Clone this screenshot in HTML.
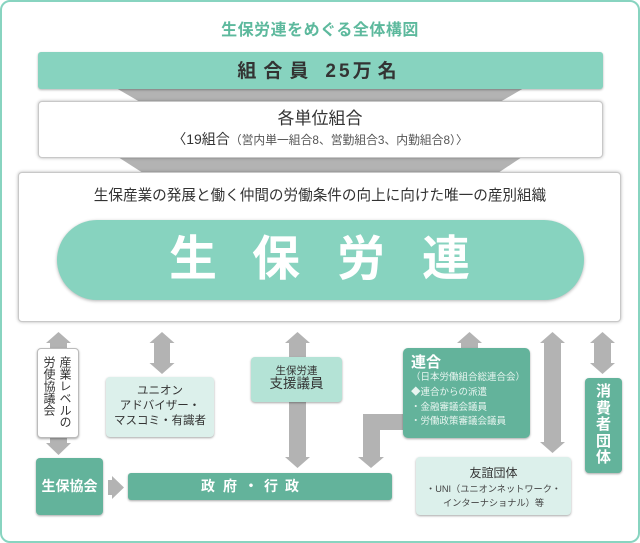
<!DOCTYPE html>
<html><head><meta charset="utf-8">
<style>
*{margin:0;padding:0;box-sizing:border-box}
html,body{width:640px;height:543px;background:#fff;overflow:hidden}
body{position:relative;font-family:"Liberation Sans","Noto Sans CJK JP",sans-serif;color:#333}
.a{position:absolute}
.frame{left:0;top:0;width:640px;height:543px;border:2px solid #88d4c0;border-radius:10px}
.c{text-align:center;white-space:nowrap}
.sh{box-shadow:0 1px 2px rgba(0,0,0,.35)}
.dk{background:#63b39b;color:#fff}
.pl{background:#dcf0eb}
</style></head><body>
<div class="a frame"></div>

<svg class="a" style="left:0;top:0" width="640" height="543" viewBox="0 0 640 543">
 <g fill="#b3b3b3">
  <polygon points="116,88 524,88 500,102 140,102"/>
  <polygon points="118,157 522,157 498,173 143,173"/>
  <polygon points="58.5,332 71,343 67,343 67,443 71,443 58.5,455 46,443 50,443 50,343 46,343"/>
  <polygon points="162,332 174.5,343 170,343 170,363 174.5,363 162,374 149.5,363 154,363 154,343 149.5,343"/>
  <polygon points="297.5,332 310,343 306,343 306,457 310,457 297.5,468 285,457 289,457 289,343 285,343"/>
  <polygon points="469.5,332 482,343 478,343 478,352 461,352 461,343 457,343"/>
  <polygon points="552.5,332 565,343 561,343 561,442 565,442 552.5,453 540,442 544,442 544,343 540,343"/>
  <polygon points="602.5,332 615,343 611,343 611,363 615,363 602.5,374 590,363 594,363 594,343 590,343"/>
  <polygon points="406,414 363,414 363,457 358,457 371,468 384,457 380,457 380,430 406,430"/>
  <polygon points="108,480 112,480 112,476 124,487.5 112,499 112,495 108,495"/>
 </g>
</svg>

<div class="a c" style="left:0;top:20px;width:640px;height:22px;line-height:22px;font-size:16px;font-weight:bold;color:#5db99d;letter-spacing:0.5px">生保労連をめぐる全体構図</div>

<div class="a" style="left:38px;top:52px;width:565px;height:37px;background:#87d3bf;border-radius:3px;box-shadow:0 1px 2px rgba(0,0,0,.3)"></div>
<div class="a c" style="left:0;top:60px;width:640px;height:24px;line-height:24px;font-size:19px;font-weight:bold;color:#333"><span style="letter-spacing:7px">組合員</span><span style="display:inline-block;width:10px"></span><span style="letter-spacing:3px">25</span><span style="letter-spacing:6px">万名</span></div>

<div class="a" style="left:38px;top:101px;width:565px;height:57px;background:#fff;border:1px solid #c8c8c8;border-radius:4px;box-shadow:0 0 3px rgba(0,0,0,.3)"></div>
<div class="a c" style="left:0;top:108px;width:640px;height:22px;line-height:22px;font-size:17px;color:#333">各単位組合</div>
<div class="a c" style="left:0;top:130px;width:640px;height:18px;line-height:18px;color:#333"><span style="font-size:14px">〈19組合</span><span style="font-size:11.8px;color:#555">（営内単一組合8、営勤組合3、内勤組合8）〉</span></div>

<div class="a" style="left:18px;top:172px;width:603px;height:150px;background:#fff;border:1px solid #c8c8c8;border-radius:4px;box-shadow:0 0 3px rgba(0,0,0,.3)"></div>
<div class="a c" style="left:0;top:186px;width:640px;height:20px;line-height:20px;font-size:14.6px;color:#333">生保産業の発展と働く仲間の労働条件の向上に向けた唯一の産別組織</div>
<div class="a" style="left:57px;top:220px;width:527px;height:80px;border-radius:40px;background:#87d3bf;box-shadow:0 1px 3px rgba(0,0,0,.3)"></div>
<div class="a" style="left:0;top:230px;width:640px;height:60px;font-size:48px;font-weight:bold;color:#fff;line-height:60px">
 <span class="a c" style="left:169px;top:0;width:48px">生</span>
 <span class="a c" style="left:252px;top:0;width:48px">保</span>
 <span class="a c" style="left:337px;top:0;width:48px">労</span>
 <span class="a c" style="left:422px;top:0;width:48px">連</span>
</div>

<div class="a sh" style="left:37px;top:348px;width:42px;height:90px;background:#fff;border:1px solid #bbb;border-radius:4px"></div>
<div class="a" style="left:41px;top:356px;width:32px;height:80px;writing-mode:vertical-rl;font-size:12px;line-height:16px;color:#333;white-space:nowrap">産業レベルの<br>労使協議会</div>

<div class="a pl sh c" style="left:106px;top:377px;width:108px;height:60px;border-radius:4px;font-size:11.5px;line-height:15px;padding-top:7px;color:#333">ユニオン<br>アドバイザー・<br>マスコミ・有識者</div>

<div class="a sh c" style="left:251px;top:357px;width:91px;height:45px;border-radius:4px;background:#b4e3d6;color:#333">
 <div style="position:absolute;left:0;top:6px;width:91px;font-size:10.5px;line-height:16px">生保労連</div>
 <div style="position:absolute;left:0;top:18px;width:91px;font-size:13.5px;line-height:18px">支援議員</div>
</div>

<div class="a dk sh" style="left:403px;top:348px;width:127px;height:90px;border-radius:5px">
 <div style="position:absolute;left:8px;top:5px;font-size:15px;font-weight:bold;line-height:20px">連合</div>
 <div style="position:absolute;left:8px;top:23px;font-size:9.5px;line-height:14.8px;color:#e8f5f0;white-space:nowrap">（日本労働組合総連合会）<br>◆連合からの派遣<br>・金融審議会議員<br>・労働政策審議会議員</div>
</div>

<div class="a dk sh c" style="left:585px;top:378px;width:37px;height:95px;border-radius:4px;font-size:15px;font-weight:bold;line-height:16.5px;padding-top:6px">消<br>費<br>者<br>団<br>体</div>

<div class="a pl sh" style="left:416px;top:457px;width:155px;height:58px;border-radius:4px;color:#333">
 <div class="c" style="position:absolute;left:0;top:7px;width:155px;font-size:12px;line-height:18px">友誼団体</div>
 <div class="c" style="position:absolute;left:0;top:26px;width:155px;font-size:9.2px;line-height:13.5px;color:#444">・UNI（ユニオンネットワーク・<br>インターナショナル）等</div>
</div>

<div class="a dk sh c" style="left:36px;top:458px;width:67px;height:57px;border-radius:4px;font-size:14px;font-weight:bold;line-height:57px">生保協会</div>

<div class="a dk sh" style="left:128px;top:473px;width:264px;height:27px;border-radius:3px"></div>
<div class="a" style="left:0;top:476px;width:640px;height:20px;font-size:14px;font-weight:bold;color:#fff;line-height:20px">
 <span class="a c" style="left:201px;width:14px">政</span>
 <span class="a c" style="left:223px;width:14px">府</span>
 <span class="a c" style="left:244px;width:14px">・</span>
 <span class="a c" style="left:264px;width:14px">行</span>
 <span class="a c" style="left:285px;width:14px">政</span>
</div>
</body></html>
